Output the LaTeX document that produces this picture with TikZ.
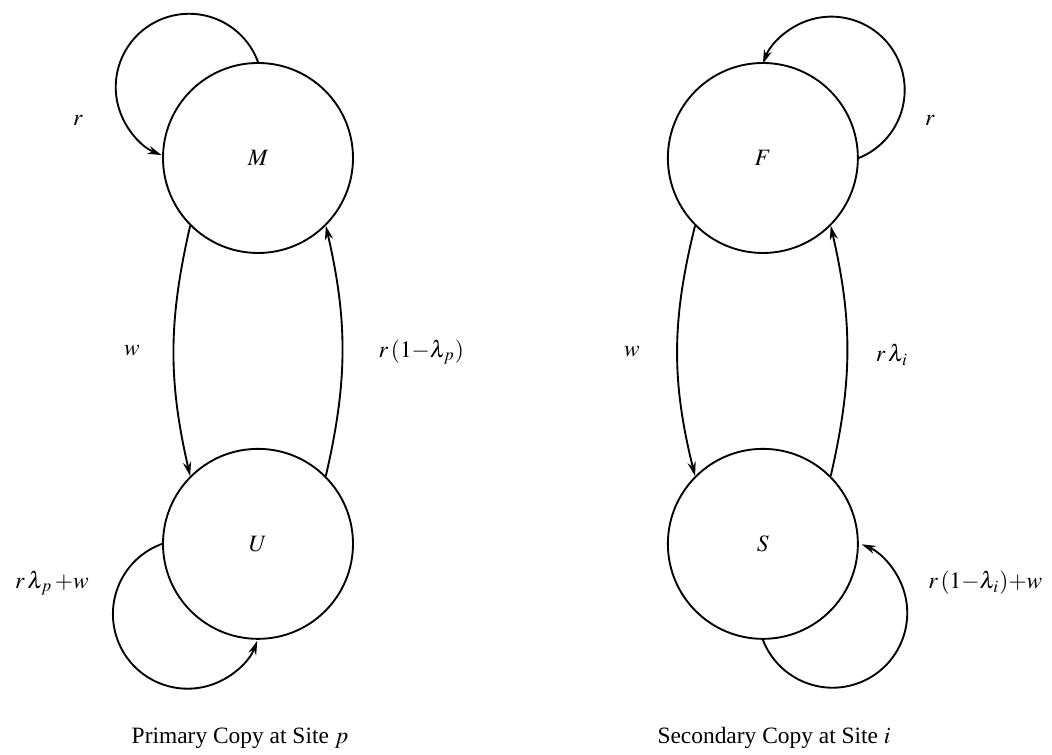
\documentclass[tikz,border=0pt]{standalone}
\usepackage{mathptmx}
\usepackage{fontspec}
\setmainfont{Liberation Serif}
\usepackage{tikz}
\usetikzlibrary{arrows.meta, positioning}
\tikzset{
  state/.style={circle, draw, minimum size=2.85cm, inner sep=0pt,
    line width=0.8pt, font=\normalsize},
  arrow/.style={-{Stealth[length=6pt, width=3.5pt]}, line width=0.8pt},
  lbl/.style={font=\normalsize},
  capt/.style={font=\normalsize}
}

\begin{document}
\begin{tikzpicture}
  \useasboundingbox (0,0) rectangle (15.78,11.325);

  % ── Primary copy ───────────────────────────────────────────────────────────
  \node[state] (M) at (3.87,8.955) {$M$};
  \node[state, below=2.91cm of M] (U) {$U$};

  % Self loops as circular arcs
  \draw[arrow] (M.north) arc[start angle=20, end angle=248, radius=1.1cm];
  \draw[arrow] (U.west) arc[start angle=110, end angle=339, radius=1.12cm];

  % Transitions between the two states
  \draw[arrow] (M.225) to[bend right=13] (U.135);
  \draw[arrow] (U.45) to[bend right=13] (M.315);

  \node[lbl] (lMM) at (1.17,9.525) {$r$};
  \node[lbl] (lMU) at (1.98,6.06) {$w$};
  \node[lbl] (lUM) at (6.32,6.045) {$r\,(1{-}\lambda_{\mkern1mu p})$};
  \node[lbl] (lUU) at (0.78,2.58) {$r\,\lambda_{\mkern1mu p}\,{+}w$};
  \node[capt] (cp) at (3.6,0.255) {Primary Copy at Site $p$};

  % ── Secondary copy ─────────────────────────────────────────────────────────
  \node[state, right=4.695cm of M] (F) {$F$};
  \node[state, below=2.91cm of F] (S) {$S$};

  % Self loops as circular arcs
  \draw[arrow] (F.east) arc[start angle=-68, end angle=159, radius=1.1cm];
  \draw[arrow] (S.south) arc[start angle=201, end angle=427, radius=1.12cm];

  % Transitions between the two states
  \draw[arrow] (F.225) to[bend right=14] (S.135);
  \draw[arrow] (S.45) to[bend right=13] (F.315);

  \node[lbl] (lFF) at (13.95,9.525) {$r$};
  \node[lbl] (lFS) at (9.48,6.045) {$w$};
  \node[lbl] (lSF) at (13.38,6.0) {$r\,\lambda_{\mkern1mu i}$};
  \node[lbl] (lSS) at (14.78,2.58) {$r\,(1{-}\lambda_{\mkern1mu i}){+}w$};
  \node[capt] (cs) at (11.61,0.255) {Secondary Copy at Site $i$};
\end{tikzpicture}
\end{document}
